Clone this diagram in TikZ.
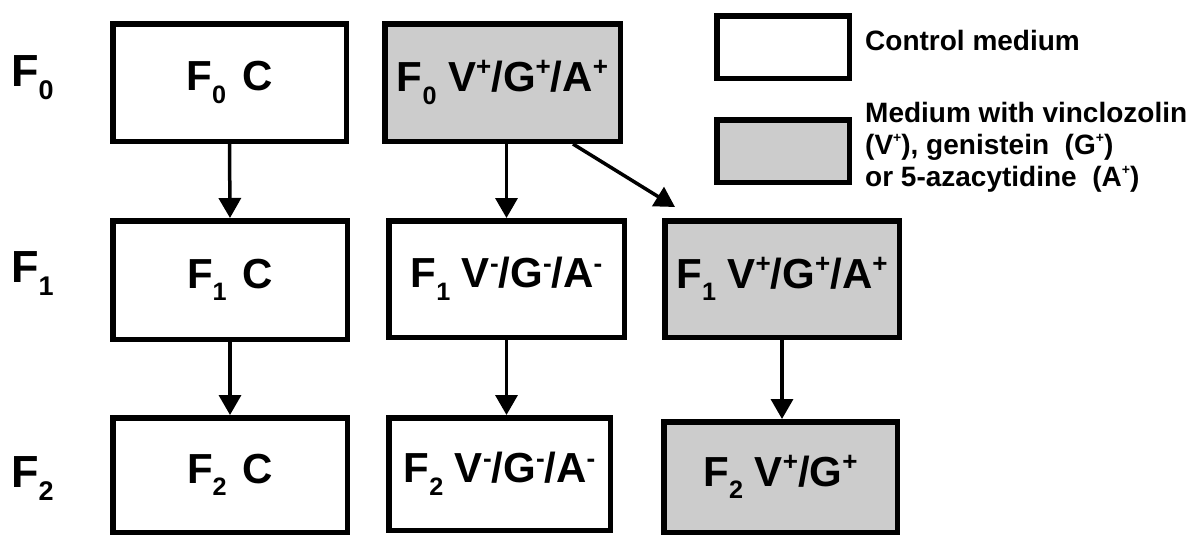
\documentclass[tikz,border=0pt]{standalone}
\usepackage{fontspec}
\setmainfont{Liberation Sans}
\usetikzlibrary{arrows.meta,calc}
\definecolor{boxgray}{RGB}{204,204,204}
% small lowered / raised indices
\newcommand{\lowsub}[1]{\raisebox{-0.3em}{\scalebox{0.6}{#1}}}
\newcommand{\highsup}[1]{\raisebox{0.37em}{\scalebox{0.62}{#1}}}
\newcommand{\keysup}[1]{\raisebox{0.42em}{\scalebox{0.5}{#1}}}
\tikzset{
  stage/.style={draw, line width=5.5pt, inner sep=0pt,
    font=\fontsize{42}{50}\selectfont\bfseries},
  treated/.style={stage, fill=boxgray},
  flow/.style={line width=3.5pt, -{Triangle[length=20pt,width=22pt]}},
  rowlab/.style={anchor=base west, inner sep=0pt,
    font=\fontsize{45}{54}\selectfont\bfseries},
  keybox/.style={draw, line width=5.5pt, minimum width=132.5pt, minimum height=62.5pt, inner sep=0pt},
  keytext/.style={inner sep=0pt, align=left,
    font=\fontsize{28}{32}\selectfont\bfseries}
}
\begin{document}
\begin{tikzpicture}[x=1pt,y=-1pt]
\useasboundingbox (0,0) rectangle (1192,536);

% generation labels
\node[rowlab] (g0) at (11,86) {F\lowsub{0}};
\node[rowlab] (g1) at (11,282) {F\lowsub{1}};
\node[rowlab] (g2) at (11,487) {F\lowsub{2}};

% control lineage
\node[stage, minimum width=233.5pt, minimum height=117.5pt] (c0) at (229.5,82.5) {F\lowsub{0}\hspace{0.38em}C};
\node[stage, minimum width=234.5pt, minimum height=118.5pt] (c1) at (230,280) {F\lowsub{1}\hspace{0.38em}C};
\node[stage, minimum width=234.5pt, minimum height=114.5pt] (c2) at (230,475) {F\lowsub{2}\hspace{0.38em}C};

% exposed F0 and its untreated offspring
\node[treated, minimum width=235.5pt, minimum height=117.5pt] (t0) at (502.5,82.5) {F\lowsub{0} V\highsup{+}/G\highsup{+}/A\highsup{+}};
\node[stage, minimum width=235.5pt, minimum height=116.5pt] (u1) at (506.5,279) {F\lowsub{1} V\highsup{-}/G\highsup{-}/A\highsup{-}};
\node[stage, minimum width=221.5pt, minimum height=112.5pt] (u2) at (499.5,474) {F\lowsub{2} V\highsup{-}/G\highsup{-}/A\highsup{-}};

% continuously exposed lineage
\node[treated, minimum width=234.5pt, minimum height=116.5pt] (t1) at (782,279) {F\lowsub{1} V\highsup{+}/G\highsup{+}/A\highsup{+}};
\node[treated, minimum width=233.5pt, minimum height=110.5pt] (t2) at (780.5,477) {F\lowsub{2} V\highsup{+}/G\highsup{+}};

% key
\node[keybox] (k0) at (783,47) {};
\node[keybox, fill=boxgray] (k1) at (783,151) {};
\node[keytext, anchor=base west] (k0t) at (865,50) {Control medium};
\node[keytext, anchor=north west] (k1t) at (865,102) {Medium with vinclozolin\\(V\keysup{+}), genistein~ (G\keysup{+})\\or 5-azacytidine~ (A\keysup{+})};

% transfers between generations
\draw[flow] (c0.south) -- (c1.north);
\draw[flow] (c1.south) -- (c2.north);
\draw[flow] (t0.south -| u1.north) -- (u1.north);
\draw[flow] (u1.south) -- (u1.south |- u2.north);
\coordinate (dtip) at (675,207);
\draw[flow] ([xshift=-50pt]t0.south east) -- (dtip);
\draw[flow] (t1.south) -- (t1.south |- t2.north);
\end{tikzpicture}
\end{document}
